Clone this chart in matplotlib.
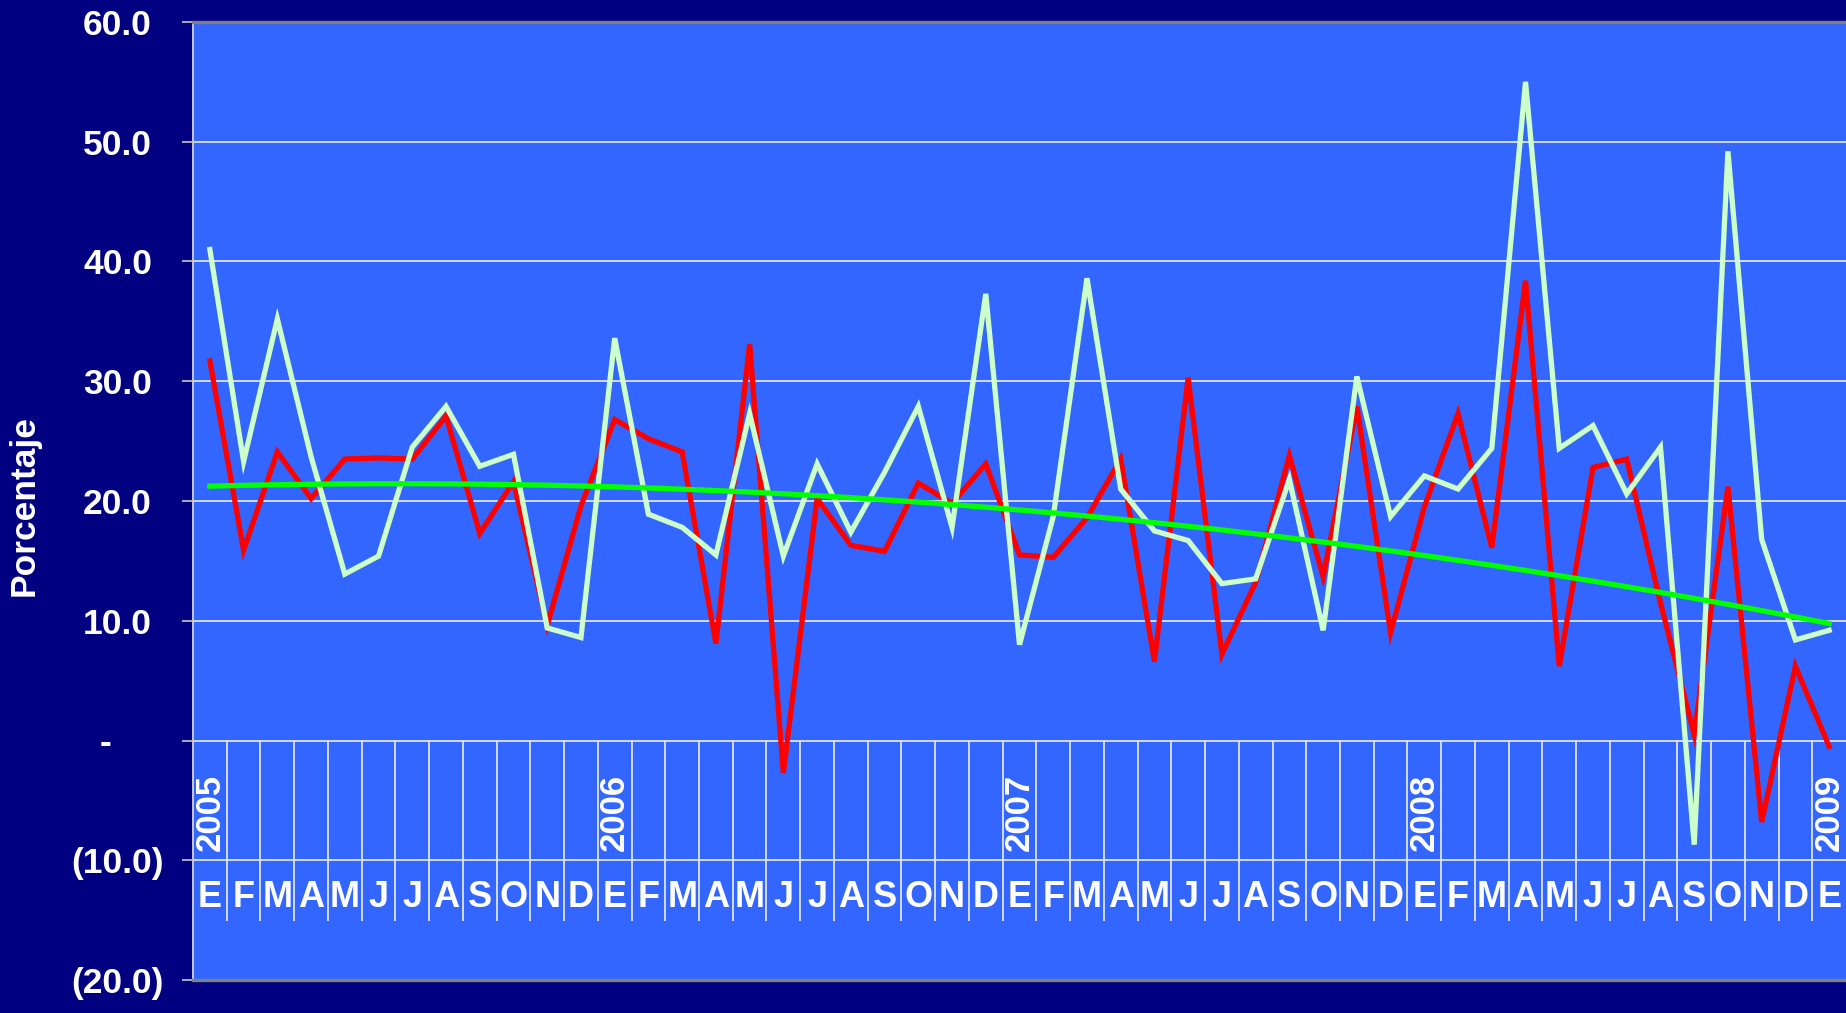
import numpy as np
import matplotlib
matplotlib.use("Agg")
import matplotlib.pyplot as plt
from matplotlib.transforms import blended_transform_factory

# ---------------- data ----------------
months = ["E", "F", "M", "A", "M", "J", "J", "A", "S", "O", "N", "D"] * 4 + ["E"]
years = ["2005", "2006", "2007", "2008", "2009"]
year_pos = [0, 12, 24, 36, 48]

red_series = [31.7, 15.9, 24.1, 20.2, 23.5, 23.6, 23.5, 27.1, 17.3, 21.6, 9.6, 19.6,
              26.8, 25.2, 24.1, 8.1, 33.1, -2.7, 20.2, 16.3, 15.8, 21.5, 19.8, 23.1,
              15.5, 15.3, 18.6, 23.5, 6.6, 30.3, 7.2, 13.2, 23.8, 13.7, 27.9, 9.0,
              19.5, 27.3, 16.1, 38.4, 6.2, 22.8, 23.5, 11.5, 0.5, 21.2, -6.8, 6.2,
              -0.5]

light_series = [41.0, 23.3, 35.2, 23.7, 13.9, 15.4, 24.5, 27.9, 22.9, 23.9, 9.4, 8.6,
                33.6, 18.9, 17.8, 15.5, 27.3, 15.4, 23.1, 17.4, 22.4, 27.9, 17.8, 37.3,
                8.0, 18.7, 38.6, 21.0, 17.5, 16.7, 13.1, 13.5, 21.8, 9.2, 30.4, 18.7,
                22.1, 21.0, 24.4, 55.0, 24.4, 26.3, 20.6, 24.5, -8.7, 49.2, 16.8, 8.4,
                9.2]

yticks = [-20, -10, 0, 10, 20, 30, 40, 50, 60]
ytick_labels = ["(20.0)", "(10.0)", "-", "10.0", "20.0", "30.0", "40.0", "50.0", "60.0"]
y_label = "Porcentaje"

# ---------------- style ----------------
plt.rcParams['font.family'] = ['Liberation Sans', 'DejaVu Sans']
plt.rcParams['font.weight'] = 'bold'

W, H = 1846, 1013
fig = plt.figure(figsize=(W / 100, H / 100), dpi=100, facecolor='#000080')
left, top, bottom = 193, 22, 980
ax = fig.add_axes([left / W, 1 - bottom / H, 1 - left / W, (bottom - top) / H])
ax.set_facecolor('#3366FF')

x = np.arange(len(months))
ax.set_xlim(-0.5, len(months) - 0.5)
ax.set_ylim(-20, 60)

grid_col = '#DDE4FF'
for v in yticks[1:-1]:
    ax.axhline(v, color=grid_col, lw=1.3, zorder=1)
ax.vlines(np.arange(len(months) - 1) + 0.5, -15.1, 0, color=grid_col, lw=1.3, zorder=1)

ax.plot(x, red_series, color='#FF0000', lw=3.8, solid_joinstyle='miter', zorder=3)
ax.plot(x, light_series, color='#CCFFCC', lw=3.8, solid_joinstyle='miter', zorder=4)
coef = np.polyfit(x, red_series, 2)
ax.plot(x, np.polyval(coef, x), color='#00FF00', lw=3.8, zorder=5)

# spines
for s in ['top', 'bottom']:
    ax.spines[s].set_color('#808080')
    ax.spines[s].set_linewidth(2.4)
ax.spines['right'].set_visible(False)
ax.spines['left'].set_color('#C8C8C8')
ax.spines['left'].set_linewidth(1.4)

ax.set_xticks([])
ax.set_yticks(yticks)
ax.tick_params(axis='y', direction='out', length=8, width=1.2, color='#C8C8C8',
               labelleft=False)

# y tick labels (accounting-style alignment)
tr = blended_transform_factory(fig.transFigure, ax.transData)
for v, lab in zip(yticks, ytick_labels):
    if v > 0:
        xr = 152 / W
    elif v < 0:
        xr = 164 / W
    else:
        xr = 111 / W
    fig.text(xr, v, lab, transform=tr, ha='right', va='center_baseline',
             fontsize=25.5, color='white', fontweight='bold')

# month labels and year labels inside the plot
for i, m in enumerate(months):
    ax.text(i, -13.15, m, ha='center', va='center', fontsize=26,
            color='white', fontweight='bold', zorder=6)
for p, yr in zip(year_pos, years):
    ax.text(p, -6.0, yr, ha='center', va='center', rotation=90, fontsize=25,
            color='white', fontweight='bold', zorder=6)

fig.text(24 / W, 1 - 506 / H, y_label, rotation=90, ha='center', va='center',
         fontsize=25.5, color='white', fontweight='bold')

fig.savefig('out.png', dpi=100, facecolor=fig.get_facecolor())
